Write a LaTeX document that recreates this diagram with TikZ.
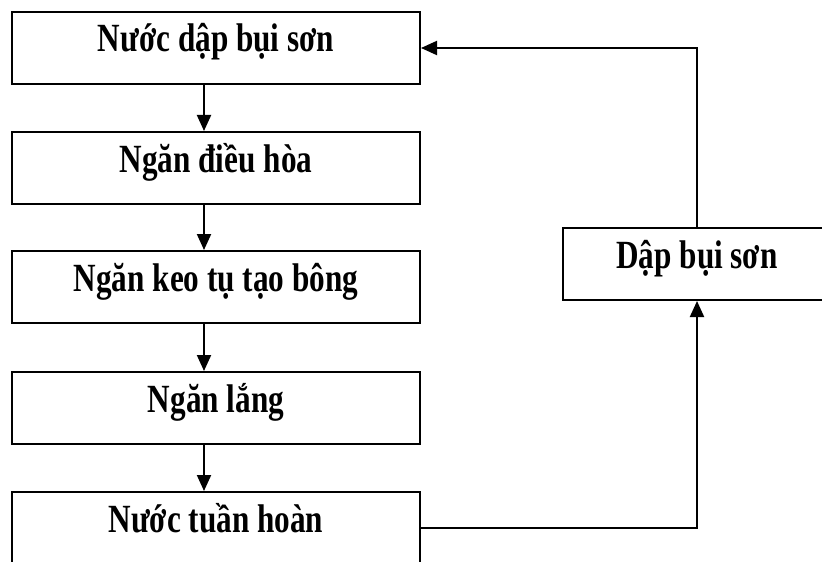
\documentclass[tikz,border=0pt]{standalone}
\usepackage{fontspec}
\setmainfont[FakeStretch=0.78]{Liberation Serif}
\usetikzlibrary{arrows.meta,positioning}
\begin{document}
\begin{tikzpicture}[x=0.5pt, y=-0.5pt,
  font=\fontsize{20}{24}\selectfont\bfseries,
  stage/.style={rectangle, draw=black, line width=1pt, minimum width=204pt, minimum height=36pt, inner sep=0pt, text height=13pt, text depth=9pt, fill=white},
  side/.style={stage, minimum width=134pt},
  a/.style={-{Triangle[length=8pt, width=7pt]}, line width=1pt, black},
]
\useasboundingbox (0,0) rectangle (822,561);
\clip (0,0) rectangle (822,561);
% ---------------- left column: treatment stages (top to bottom)
\node[stage] (nuoc) at (216,48) {Nước dập bụi sơn};
\node[stage] (dieu) at (216,168) {Ngăn điều hòa};
\node[stage] (keo)  at (216,287) {Ngăn keo tụ tạo bông};
\node[stage] (lang) at (216,408) {Ngăn lắng};
\node[stage] (tuan) at (216,528) {Nước tuần hoàn};
\coordinate (ax) at (204,0);
\foreach \u/\v in {nuoc/dieu, dieu/keo, keo/lang, lang/tuan} {
  \draw[a] (\u.south -| ax) -- (\v.north -| ax);
}
% ---------------- return loop through the spray step
\node[side] (dap) at (697,264) {Dập bụi sơn};
\draw[a] (tuan.east) -| (dap.south);
\draw[a] (dap.north) |- (nuoc.east);
\end{tikzpicture}
\end{document}
